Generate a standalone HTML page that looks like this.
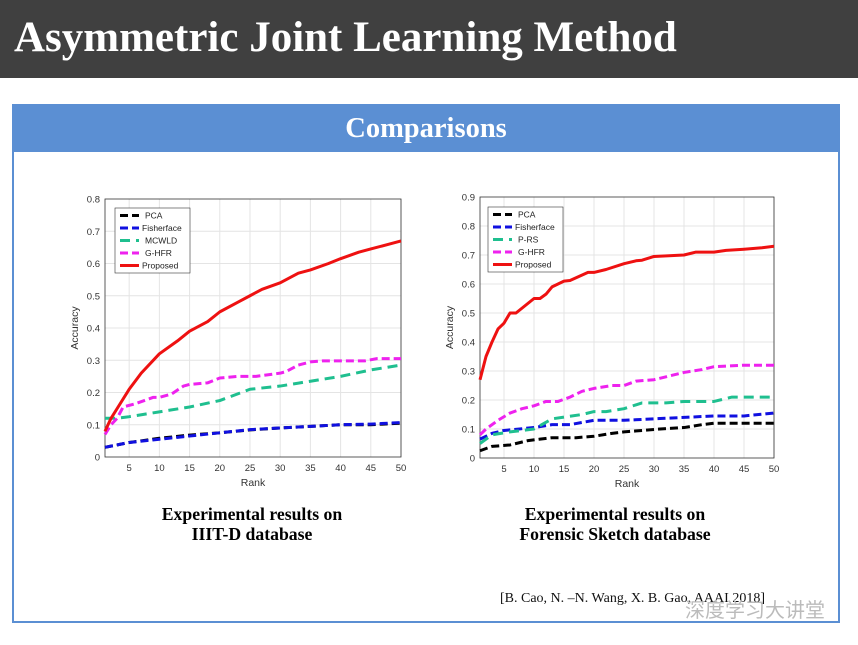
<!DOCTYPE html>
<html><head><meta charset="utf-8"><style>
body{margin:0;width:858px;height:645px;background:#fff;overflow:hidden;position:relative;font-family:"Liberation Sans",sans-serif}
#hdr{position:absolute;left:0;top:0;width:858px;height:78px;background:#404040}
#hdr div{position:absolute;left:14px;top:13px;color:#fff;font:bold 43px "Liberation Serif",serif}
#box{position:absolute;left:12px;top:104px;width:828px;height:519px;border:2px solid #5b8fd3;box-sizing:border-box}
#band{position:absolute;left:12px;top:104px;width:828px;height:48px;background:#5b8fd3;color:#fff;font:bold 28.5px "Liberation Serif",serif;text-align:center;line-height:50px}
.cap{position:absolute;font:bold 17.7px "Liberation Serif",serif;text-align:center;width:300px;line-height:20px}
svg{position:absolute;left:0;top:0}
</style></head><body>
<div id="hdr"><div>Asymmetric Joint Learning Method</div></div>
<div id="box"></div>
<div id="band">Comparisons</div>
<div class="cap" style="left:102px;top:504px">Experimental results on<br>IIIT-D database</div>
<div class="cap" style="left:465px;top:504px">Experimental results on<br>Forensic Sketch database</div>
<div style="position:absolute;left:500px;top:591px;font:14px 'Liberation Serif',serif;color:#111">[B. Cao, N. –N. Wang, X. B. Gao, AAAI 2018]</div>
<div style="position:absolute;left:685px;top:594px;font:20px 'Noto Sans CJK SC',sans-serif;color:#bbb">深度学习大讲堂</div>
<svg id="s" width="858" height="645"></svg>
<script>
var S=document.getElementById('s'),h='';
function chart(L,R,T,B,ymax,step,series,legend,lx,ly){
 var sx=function(x){return L+(x-1)*(R-L)/49},sy=function(y){return B-y*(B-T)/ymax};
 for(var x=5;x<=50;x+=5){h+='<line x1="'+sx(x)+'" x2="'+sx(x)+'" y1="'+T+'" y2="'+B+'" stroke="#e4e4e4"/>';h+='<text x="'+sx(x)+'" y="'+(B+14)+'" font-size="9.5" text-anchor="middle" fill="#333">'+x+'</text>';}
 var n=Math.round(ymax/step);
 for(var i=0;i<=n;i++){var v=i*step,y=sy(v);if(i>0&&i<n)h+='<line x1="'+L+'" x2="'+R+'" y1="'+y+'" y2="'+y+'" stroke="#e4e4e4"/>';h+='<text x="'+(L-5)+'" y="'+(y+3.5)+'" font-size="9.5" text-anchor="end" fill="#333">'+(i==0?'0':v.toFixed(1))+'</text>';}
 h+='<rect x="'+L+'" y="'+T+'" width="'+(R-L)+'" height="'+(B-T)+'" fill="none" stroke="#333" stroke-width="0.8"/>';
 h+='<text x="'+((L+R)/2)+'" y="'+(B+29)+'" font-size="10.5" text-anchor="middle" fill="#333">Rank</text>';
 h+='<text transform="translate('+(L-27)+','+((T+B)/2)+') rotate(-90)" font-size="10.5" text-anchor="middle" fill="#333">Accuracy</text>';
 series.forEach(function(s){var p=[];for(var i=0;i<s.d.length;i+=2)p.push(sx(s.d[i])+','+sy(s.d[i+1]));
  h+='<polyline points="'+p.join(' ')+'" fill="none" stroke="'+s.c+'" stroke-width="'+(s.w||3)+'" '+(s.da?'stroke-dasharray="'+s.da+'"':'')+' stroke-linejoin="round"/>';});
 h+='<rect x="'+lx+'" y="'+ly+'" width="75" height="65" fill="#fff" stroke="#333" stroke-width="0.6"/>';
 series.forEach(function(s,i){var y=ly+7.5+i*12.5;h+='<line x1="'+(lx+5)+'" x2="'+(lx+24)+'" y1="'+y+'" y2="'+y+'" stroke="'+s.c+'" stroke-width="3" '+(s.da?'stroke-dasharray="'+s.da+'"':'')+'/>';
  h+='<text x="'+(s.n=='Fisherface'||s.n=='Proposed'?lx+27:lx+30)+'" y="'+(y+3)+'" font-size="8.5" fill="#222">'+s.n+'</text>';});
}
chart(105,401,199,457,0.8,0.1,[
 {n:'PCA',c:'#000',da:'8 4',d:[1,0.03,5,0.045,10,0.058,15,0.068,20,0.075,25,0.084,30,0.09,35,0.095,40,0.1,45,0.1,50,0.105]},
 {n:'Fisherface',c:'#1010e0',da:'8 4',d:[1,0.03,5,0.045,10,0.055,15,0.065,20,0.075,25,0.085,30,0.09,35,0.095,40,0.1,45,0.102,50,0.107]},
 {n:'MCWLD',c:'#1fbf8f',da:'10 6',d:[1,0.12,3,0.12,5,0.125,10,0.14,15,0.155,20,0.175,25,0.21,30,0.22,35,0.235,40,0.25,45,0.27,50,0.285]},
 {n:'G-HFR',c:'#ee22ee',da:'8 4',d:[1,0.07,2,0.1,3,0.12,4,0.155,6,0.165,9,0.185,10,0.185,12,0.195,14,0.22,15,0.225,18,0.23,20,0.245,23,0.25,26,0.25,30,0.26,31,0.265,33,0.285,35,0.295,37,0.298,44,0.298,46,0.305,50,0.305]},
 {n:'Proposed',c:'#ee1111',d:[1,0.08,2,0.12,3,0.15,5,0.21,7,0.26,10,0.32,13,0.36,15,0.39,18,0.42,20,0.45,23,0.48,25,0.5,27,0.52,30,0.54,33,0.57,35,0.58,38,0.6,40,0.615,43,0.635,45,0.645,48,0.66,50,0.67]}
],'',115,208);
chart(480,774,197,458,0.9,0.1,[
 {n:'PCA',c:'#000',da:'8 4',d:[1,0.025,3,0.04,6,0.045,9,0.06,11,0.065,13,0.07,17,0.07,20,0.075,23,0.085,25,0.09,28,0.095,31,0.1,35,0.105,38,0.115,40,0.12,45,0.12,50,0.12]},
 {n:'Fisherface',c:'#1010e0',da:'8 4',d:[1,0.065,3,0.085,5,0.095,10,0.105,13,0.115,16,0.115,20,0.13,25,0.13,30,0.135,35,0.14,40,0.145,45,0.145,50,0.155]},
 {n:'P-RS',c:'#1fbf8f',da:'10 6',d:[1,0.05,3,0.08,6,0.09,10,0.1,13,0.135,18,0.15,20,0.16,22,0.16,25,0.17,28,0.19,32,0.19,35,0.195,40,0.195,43,0.21,50,0.21]},
 {n:'G-HFR',c:'#ee22ee',da:'8 4',d:[1,0.08,2,0.1,4,0.13,6,0.155,8,0.17,10,0.18,12,0.195,14,0.195,16,0.21,18,0.23,20,0.24,23,0.25,25,0.25,27,0.265,30,0.27,35,0.295,38,0.305,40,0.315,45,0.32,50,0.32]},
 {n:'Proposed',c:'#ee1111',d:[1,0.27,2,0.35,3,0.4,4,0.445,5,0.465,6,0.5,7,0.5,10,0.55,11,0.55,12,0.565,13,0.59,15,0.61,16,0.612,19,0.64,20,0.64,22,0.65,25,0.67,27,0.68,28,0.682,30,0.695,35,0.7,37,0.71,40,0.71,42,0.716,45,0.72,48,0.725,50,0.73]}
],'',488,207);
S.innerHTML=h;
</script>
</body></html>
